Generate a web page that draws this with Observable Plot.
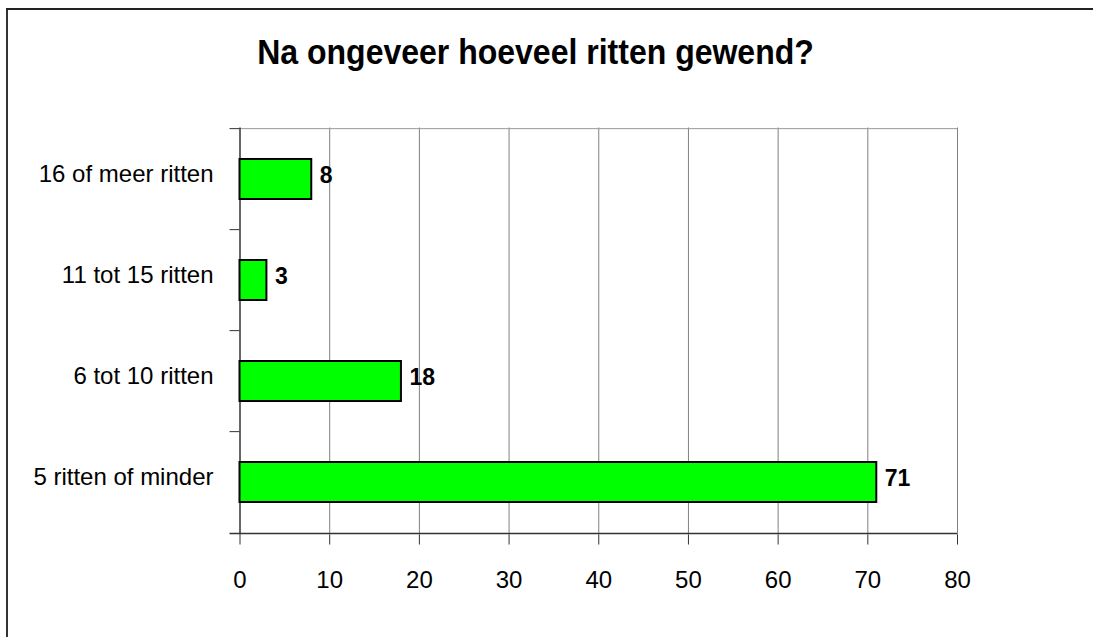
<!DOCTYPE html>
<html><head><meta charset="utf-8">
<script src="https://cdn.jsdelivr.net/npm/d3@7"></script>
<script src="https://cdn.jsdelivr.net/npm/@observablehq/plot@0.6"></script>
<style>
html,body{margin:0;padding:0;background:#fff;}
#wrap{position:relative;width:1093px;height:637px;overflow:hidden;font-family:"Liberation Sans",Arial,sans-serif;}
#chart{position:absolute;left:0;top:0;}
#title{position:absolute;left:0;width:1071px;top:37px;text-align:center;font-size:32px;line-height:32px;font-weight:bold;color:#000;white-space:nowrap;transform:scaleY(1.1);transform-origin:50% 85%;}
.bl{position:absolute;left:6px;top:8px;width:2px;height:629px;background:#333;}
.bt{position:absolute;left:6px;top:8px;height:2px;width:1087px;background:#222;}
</style></head><body>
<div id="wrap"><div class="bl"></div><div class="bt"></div><div id="chart"></div><div id="title"></div></div>
<script>
const title = "Na ongeveer hoeveel ritten gewend?";
const categories = ["16 of meer ritten", "11 tot 15 ritten", "6 tot 10 ritten", "5 ritten of minder"];
const values = [8, 3, 18, 71];
const xTicks = [0, 10, 20, 30, 40, 50, 60, 70, 80];

const data = categories.map((c, i) => ({category: c, value: values[i]}));
const W = 1093, H = 637, mt = 127.5, mb = 102.5, ml = 239.5, mr = 136;
const step = (H - mt - mb) / categories.length;
const tickUnits = 10 / ((W - ml - mr) / 80);

document.getElementById("title").textContent = title;

const chart = Plot.plot({
  width: W, height: H,
  marginTop: mt, marginBottom: mb, marginLeft: ml, marginRight: mr,
  style: {fontFamily: "'Liberation Sans', Arial, sans-serif", background: "transparent", overflow: "visible", color: "#000"},
  x: {domain: [0, 80], label: null},
  y: {domain: categories, paddingInner: 0.6, paddingOuter: 0.3, label: null},
  marks: [
    Plot.gridX(xTicks.slice(1), {stroke: "#808080", strokeOpacity: 1}),
    Plot.ruleY([categories[0]], {dy: -step / 2, x1: 0, x2: 80, stroke: "#9a9a9a"}),
    Plot.ruleY(categories, {dy: -step / 2, x1: -tickUnits, x2: 0, stroke: "#333"}),
    Plot.ruleY([categories[categories.length - 1]], {dy: step / 2, x1: -tickUnits, x2: 80, stroke: "#333", strokeWidth: 1.5}),
    Plot.ruleX([0], {stroke: "#333", strokeWidth: 1.5}),
    Plot.barX(data, {x: "value", y: "category", fill: "#00ff00", stroke: "#000", strokeWidth: 2}),
    Plot.text(data, {x: "value", y: "category", text: d => String(d.value), dx: 8, dy: -4, textAnchor: "start", fontWeight: "bold", fontSize: 23, fill: "#000"}),
    Plot.axisX({ticks: xTicks, tickSize: 10, tickPadding: 26, fontSize: 24, stroke: "#333", fill: "#000", label: null}),
    Plot.axisY({tickSize: 0, tickPadding: 26.5, fontSize: 24, dy: -5, fill: "#000", label: null})
  ]
});
document.getElementById("chart").appendChild(chart);
</script>
</body></html>
